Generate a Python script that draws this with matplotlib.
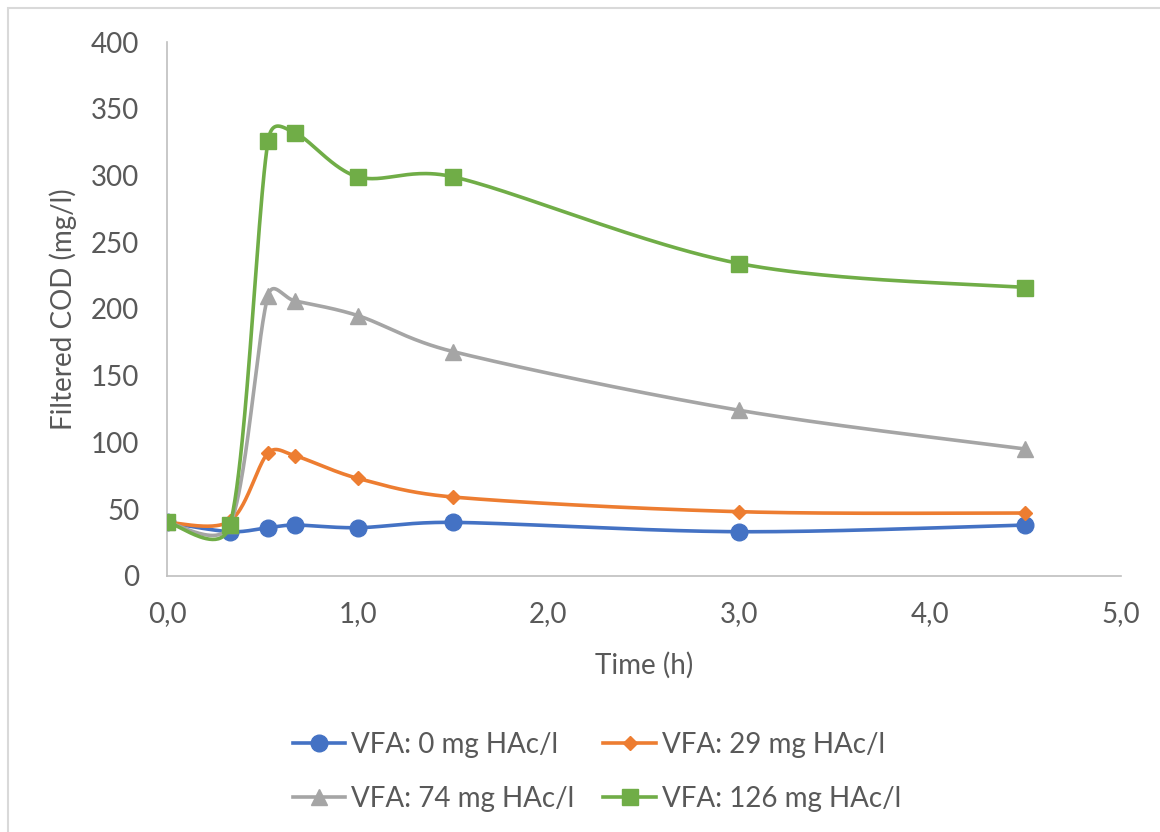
import numpy as np
import matplotlib
matplotlib.use("Agg")
import matplotlib.pyplot as plt
from matplotlib.lines import Line2D
from matplotlib.patches import Rectangle

plt.rcParams['font.family'] = ['Lato', 'DejaVu Sans']

time_h = [0.0, 0.33, 0.53, 0.67, 1.0, 1.5, 3.0, 4.5]
vfa_0 = [40, 33, 36, 38, 36, 40, 33, 38]
vfa_29 = [40, 41, 92, 90, 73, 59, 48, 47]
vfa_74 = [40, 38, 210, 206, 195, 168, 124, 95]
vfa_126 = [40, 38, 326, 332, 299, 299, 234, 216]
labels = ["VFA: 0 mg HAc/l", "VFA: 29 mg HAc/l", "VFA: 74 mg HAc/l", "VFA: 126 mg HAc/l"]
colors = ["#4472C4", "#ED7D31", "#A5A5A5", "#70AD47"]
markers = ["o", "D", "^", "s"]
msizes = [12, 7.5, 11, 12]

fig = plt.figure(figsize=(11.6, 8.32), dpi=100)
W, H = 1160, 832
fig.patches.append(Rectangle((8 / W, -0.1), 1.2, 1.1 - 8 / H, transform=fig.transFigure,
                             fill=False, edgecolor='#D9D9D9', lw=1.5, zorder=0))
ax = fig.add_axes([0.144, 0.308, 0.822, 0.6415])
ax.set_xlim(0, 5)
ax.set_ylim(0, 400)


def smooth(x, y, n=50):
    # bezier smoothing computed in display space with tension adapted to chord lengths
    pts = ax.transData.transform(np.column_stack([x, y]))
    N = len(pts)
    out = []
    for i in range(N - 1):
        p0 = pts[i - 1] if i > 0 else pts[i]
        p1 = pts[i]
        p2 = pts[i + 1]
        p3 = pts[i + 2] if i + 2 < N else pts[i + 1]
        d01 = np.linalg.norm(p1 - p0); d12 = np.linalg.norm(p2 - p1); d23 = np.linalg.norm(p3 - p2)
        s1 = min(1.0, np.sqrt(2 * d12 / (d01 + d12))) if d01 > 0 else 1.0
        s2 = min(1.0, np.sqrt(2 * d12 / (d12 + d23))) if d23 > 0 else 1.0
        c1 = p1 + (p2 - p0) / 6.0 * s1
        c2 = p2 - (p3 - p1) / 6.0 * s2
        t = np.linspace(0, 1, n)[:, None]
        seg = ((1 - t) ** 3) * p1 + 3 * ((1 - t) ** 2) * t * c1 + 3 * (1 - t) * t ** 2 * c2 + t ** 3 * p2
        out.append(seg if i == 0 else seg[1:])
    s = ax.transData.inverted().transform(np.vstack(out))
    return s[:, 0], s[:, 1]


series = [vfa_0, vfa_29, vfa_74, vfa_126]
handles = []
for k, (ys, c, m, ms, lab) in enumerate(zip(series, colors, markers, msizes, labels)):
    sx, sy = smooth(time_h, ys)
    ax.plot(sx, sy, color=c, lw=2.6, zorder=2 + k, solid_capstyle='round')
    ax.plot(time_h, ys, linestyle='none', marker=m, markersize=ms, color=c, zorder=2 + k)
    handles.append(Line2D([0], [0], color=c, lw=2.6, marker=m, markersize=ms))

ax.set_xticks(np.arange(0, 5.01, 1.0))
ax.set_xticklabels([f"{v:.1f}".replace('.', ',') for v in np.arange(0, 5.01, 1.0)])
ax.set_yticks(np.arange(0, 401, 50))
for s in ['top', 'right']:
    ax.spines[s].set_visible(False)
for s in ['left', 'bottom']:
    ax.spines[s].set_color('#BFBFBF')
    ax.spines[s].set_linewidth(1.2)
ax.tick_params(axis='x', length=0, labelsize=20, colors='#595959', pad=18)
ax.tick_params(axis='y', length=0, labelsize=20, colors='#595959', pad=20)
ax.set_xlabel("Time (h)", fontsize=20, color='#595959', labelpad=18)
ax.set_ylabel("Filtered COD (mg/l)", fontsize=20, color='#595959', labelpad=10)

order = [0, 2, 1, 3]
fig.legend([handles[i] for i in order], [labels[i] for i in order], loc='center',
           bbox_to_anchor=(0.5145, 0.072), ncol=2,
           frameon=False, fontsize=20, labelcolor='#595959', handlelength=1.9,
           handletextpad=0.2, columnspacing=1.05, labelspacing=1.0)

fig.savefig("out.png", dpi=100)
